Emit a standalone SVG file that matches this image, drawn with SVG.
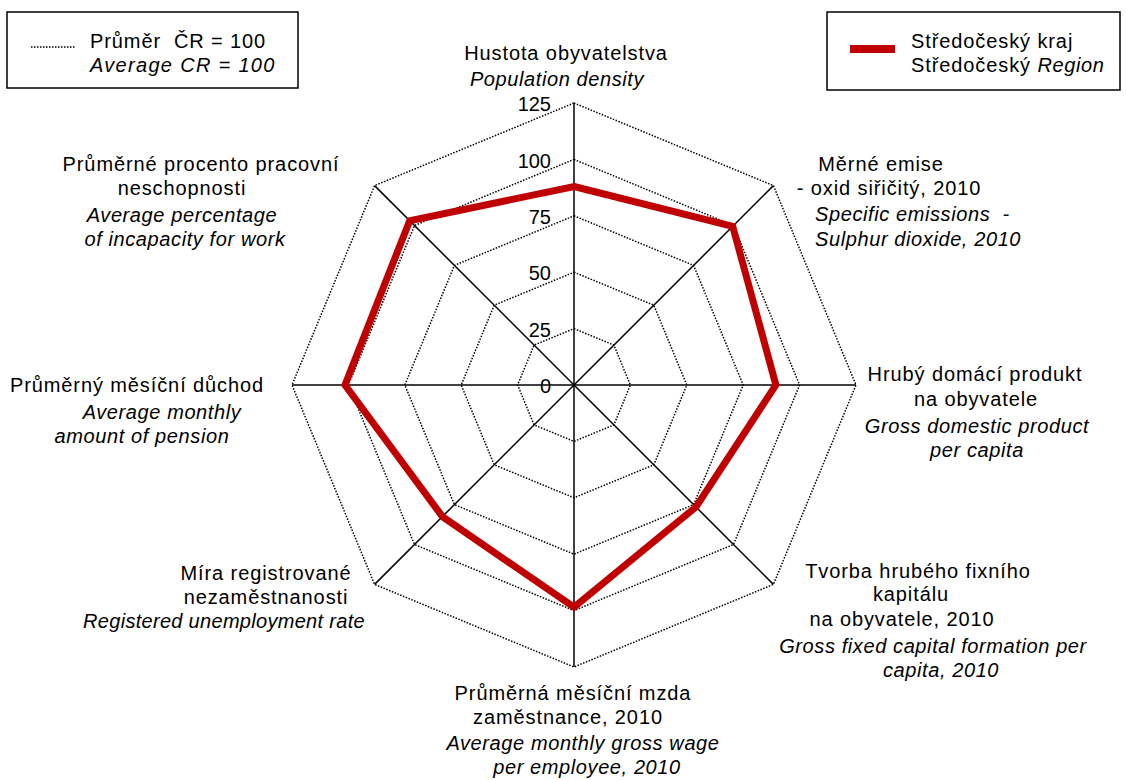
<svg xmlns="http://www.w3.org/2000/svg" width="1126" height="780" viewBox="0 0 1126 780">
<style>
text{font-family:"Liberation Sans",Arial,Helvetica,sans-serif;font-size:20px;fill:#000;letter-spacing:0.9px}
.it{font-style:italic;letter-spacing:0.6px}
.m{text-anchor:middle}
.ring{fill:none;stroke:#000;stroke-width:1.5;stroke-dasharray:1.5 1.5}
.axis{stroke:#000;stroke-width:1.5;fill:none}
.series{fill:none;stroke:#C00000;stroke-width:7;stroke-linejoin:miter}
.box{fill:#fff;stroke:#000;stroke-width:1.5}
.num{text-anchor:end;letter-spacing:0}
</style>
<rect width="1126" height="780" fill="#fff"/>
<g id="grid">
<polygon class="ring" points="574,328.6 613.9,345.1 630.4,385 613.9,424.9 574,441.4 534.1,424.9 517.6,385 534.1,345.1"/>
<polygon class="ring" points="574,272.2 653.8,305.2 686.8,385 653.8,464.8 574,497.8 494.2,464.8 461.2,385 494.2,305.2"/>
<polygon class="ring" points="574,215.8 693.6,265.4 743.2,385 693.6,504.6 574,554.2 454.4,504.6 404.8,385 454.4,265.4"/>
<polygon class="ring" points="574,159.4 733.5,225.5 799.6,385 733.5,544.5 574,610.6 414.5,544.5 348.4,385 414.5,225.5"/>
<polygon class="ring" points="574,103 773.4,185.6 856,385 773.4,584.4 574,667 374.6,584.4 292,385 374.6,185.6"/>
</g>
<g id="connectors">
<line class="axis" x1="574" y1="385" x2="574" y2="103"/>
<line class="axis" x1="574" y1="385" x2="773.4" y2="185.6"/>
<line class="axis" x1="574" y1="385" x2="856" y2="385"/>
<line class="axis" x1="574" y1="385" x2="773.4" y2="584.4"/>
<line class="axis" x1="574" y1="385" x2="574" y2="667"/>
<line class="axis" x1="574" y1="385" x2="374.6" y2="584.4"/>
<line class="axis" x1="574" y1="385" x2="292" y2="385"/>
<line class="axis" x1="574" y1="385" x2="374.6" y2="185.6"/>
</g>
<g id="series-stredocesky">
<polygon class="series" points="574,186.5 732.7,226.3 775.9,385 696,507 574,607.2 442.4,516.6 345,385 409.7,220.7"/>
</g>
<g id="scale">
<text class="num" x="551" y="393">0</text>
<text class="num" x="551" y="337">25</text>
<text class="num" x="551" y="280">50</text>
<text class="num" x="551" y="224">75</text>
<text class="num" x="551" y="168">100</text>
<text class="num" x="551" y="111">125</text>
</g>
<g id="legend-average">
<rect class="box" x="7" y="12" width="291" height="76"/>
<line x1="31" y1="47" x2="75" y2="47" stroke="#000" stroke-width="1.5" stroke-dasharray="1.5 1.5"/>
<text x="90" y="48">Průměr&#160; ČR = 100</text>
<text class="it" x="90" y="72" textLength="185" lengthAdjust="spacing">Average CR = 100</text>
</g>
<g id="legend-region">
<rect class="box" x="827" y="12" width="293" height="78"/>
<line x1="850" y1="49" x2="895" y2="49" stroke="#C00000" stroke-width="8"/>
<text x="911" y="48">Středočeský kraj</text>
<text x="911" y="72">Středočeský <tspan class="it">Region</tspan></text>
</g>
<g id="label-hustota">
<text class="m" x="566" y="60">Hustota obyvatelstva</text>
<text class="m it" x="557" y="86">Population density</text>
</g>
<g id="label-emise">
<text class="m" x="881" y="171">Měrné emise</text>
<text class="m" x="889" y="195">- oxid siřičitý, 2010</text>
<text class="it" x="815" y="221">Specific emissions&#160; -</text>
<text class="it" x="815" y="246">Sulphur dioxide, 2010</text>
</g>
<g id="label-hdp">
<text class="m" x="975" y="381">Hrubý domácí produkt</text>
<text class="m" x="976" y="406">na obyvatele</text>
<text class="m it" x="977" y="433">Gross domestic product</text>
<text class="m it" x="977" y="457">per capita</text>
</g>
<g id="label-tvorba">
<text class="m" x="918" y="578">Tvorba hrubého fixního</text>
<text class="m" x="911" y="601">kapitálu</text>
<text class="m" x="902" y="626">na obyvatele, 2010</text>
<text class="m it" x="933" y="653">Gross fixed capital formation per</text>
<text class="m it" x="941" y="677">capita, 2010</text>
</g>
<g id="label-mzda">
<text class="m" x="573" y="700">Průměrná měsíční mzda</text>
<text class="m" x="568" y="724">zaměstnance, 2010</text>
<text class="m it" x="583" y="750">Average monthly gross wage</text>
<text class="m it" x="587" y="774">per employee, 2010</text>
</g>
<g id="label-nezamestnanost">
<text class="m" x="266" y="580">Míra registrované</text>
<text class="m" x="266" y="604">nezaměstnanosti</text>
<text class="m it" x="224" y="628" style="letter-spacing:0.3px">Registered unemployment rate</text>
</g>
<g id="label-duchod">
<text class="m" x="137" y="392">Průměrný měsíční důchod</text>
<text class="m it" x="162" y="419">Average monthly</text>
<text class="m it" x="142" y="443">amount of pension</text>
</g>
<g id="label-neschopnost">
<text class="m" x="201" y="171">Průměrné procento pracovní</text>
<text class="m" x="182" y="195">neschopnosti</text>
<text class="m it" x="182" y="222">Average percentage</text>
<text class="m it" x="185" y="246">of incapacity for work</text>
</g>
</svg>
